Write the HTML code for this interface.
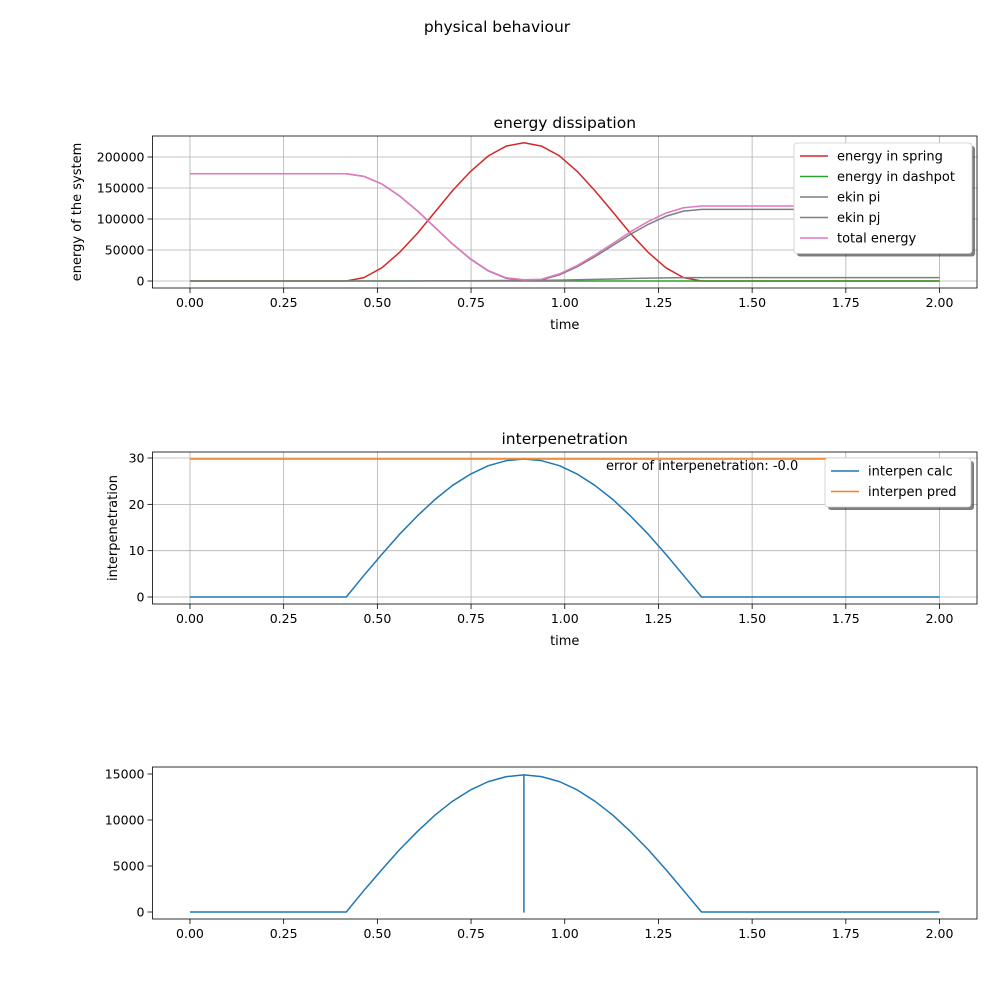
<!DOCTYPE html>
<html><head><meta charset="utf-8"><style>
body{margin:0;background:#fff}
svg text{font-family:"DejaVu Sans","Liberation Sans",sans-serif;fill:#000}
</style></head><body>
<svg id="fig" width="1000" height="1000" viewBox="0 0 1000 1000">
<rect width="1000" height="1000" fill="#fff"/>
<text x="497" y="32" font-size="15.5" text-anchor="middle">physical behaviour</text>
</svg>
<script>
// ---- data ----
const xTicks = [0, 0.25, 0.5, 0.75, 1.0, 1.25, 1.5, 1.75, 2.0];
const xTickLabels = ["0.00","0.25","0.50","0.75","1.00","1.25","1.50","1.75","2.00"];
const timeRise = [0, 0.417, 0.464, 0.512, 0.559, 0.607, 0.654, 0.701, 0.749, 0.796, 0.844, 0.891, 0.938, 0.986, 1.033, 1.080, 1.128, 1.175, 1.223, 1.270, 1.317, 1.365, 2.0];
const springEnergy = [0, 0, 5460, 21290, 45990, 77000, 111500, 146000, 177000, 201800, 217600, 223000, 217600, 201800, 177000, 146000, 111500, 77000, 45990, 21290, 5460, 0, 0];
const dashpotEnergy = [0, 0, 0, 0, 0, 0, 0, 0, 0, 0, 0, 0, 0, 0, 0, 0, 0, 0, 0, 0, 0, 0, 0];
const totalEnergy = [173000, 173000, 168760, 156480, 137330, 113200, 86500, 59700, 35600, 16800, 5200, 2000, 2900, 11500, 24900, 41700, 60500, 79300, 96100, 109500, 118100, 121000, 121000];
const ekinPi = [0, 0, 0, 0, 100, 200, 300, 400, 500, 600, 800, 1000, 1100, 1500, 2000, 2600, 3300, 4000, 4600, 5100, 5400, 5500, 5500];
const ekinPj = [173000, 173000, 168760, 156480, 137230, 113000, 86200, 59300, 35100, 16200, 4400, 1000, 1800, 10000, 22900, 39100, 57200, 75300, 91500, 104400, 112700, 115500, 115500];
const interpenCalc = [0, 0, 4.66, 9.21, 13.53, 17.52, 21.07, 24.11, 26.55, 28.34, 29.43, 29.8, 29.43, 28.34, 26.55, 24.11, 21.07, 17.52, 13.53, 9.21, 4.66, 0, 0];
const interpenPredTime = [0, 2.0];
const interpenPred = [29.8, 29.8];
const forceTime = [0, 0.417, 0.464, 0.512, 0.559, 0.607, 0.654, 0.701, 0.749, 0.796, 0.844, 0.891, 0.891, 0.891, 0.938, 0.986, 1.033, 1.080, 1.128, 1.175, 1.223, 1.270, 1.317, 1.365, 2.0];
const forceVals = [0, 0, 2331, 4604, 6765, 8758, 10536, 12055, 13276, 14171, 14716, 14900, 0, 14900, 14716, 14171, 13276, 12055, 10536, 8758, 6765, 4604, 2331, 0, 0];
const y1Ticks = [0, 50000, 100000, 150000, 200000];
const y2Ticks = [0, 10, 20, 30];
const y3Ticks = [0, 5000, 10000, 15000];

const NS = "http://www.w3.org/2000/svg";
const svg = document.getElementById("fig");
function mk(tag, attrs, parent){const e=document.createElementNS(NS,tag);for(const k in attrs)e.setAttribute(k,attrs[k]);(parent||svg).appendChild(e);return e;}

function panel(cfg){
  const L=152.5,R=977,T=cfg.top,B=cfg.top+152;
  const xs=v=>L+(v+0.1)/2.2*(R-L);
  const ys=v=>B-(v-cfg.ymin)/(cfg.ymax-cfg.ymin)*(B-T);
  const g=mk("g",{});
  
  
  if(cfg.grid){
    xTicks.forEach(t=>{const l=mk("line",{x1:xs(t),x2:xs(t),y1:T,y2:B,stroke:"#b0b0b0","stroke-width":0.8},g);
      });
    cfg.yTicks.forEach(t=>{const l=mk("line",{x1:L,x2:R,y1:ys(t),y2:ys(t),stroke:"#b0b0b0","stroke-width":0.8},g);
      });
  }
  cfg.series.forEach(s=>{
    const pts=s.x.map((t,i)=>xs(t).toFixed(2)+","+ys(s.y[i]).toFixed(2)).join(" ");
    const p=mk("polyline",{points:pts,fill:"none",stroke:s.color,"stroke-width":1.5,"stroke-linejoin":"round"},g);
    
    
  });
  const fr=mk("rect",{x:L,y:T,width:R-L,height:B-T,fill:"none",stroke:"#000","stroke-width":0.8},g);
  
  xTicks.forEach((t,i)=>{
    mk("line",{x1:xs(t),x2:xs(t),y1:B,y2:B+5,stroke:"#000","stroke-width":0.8},g);
    const tx=mk("text",{x:xs(t),y:B+19,"font-size":12.5,"text-anchor":"middle"},g);tx.textContent=xTickLabels[i];
    
  });
  cfg.yTicks.forEach(t=>{
    mk("line",{x1:L-5,x2:L,y1:ys(t),y2:ys(t),stroke:"#000","stroke-width":0.8},g);
    const tx=mk("text",{x:L-8,y:ys(t)+4.5,"font-size":12.5,"text-anchor":"end"},g);tx.textContent=String(t);
    
  });
  if(cfg.title){const tx=mk("text",{x:(L+R)/2,y:T-8,"font-size":15.5,"text-anchor":"middle"},g);tx.textContent=cfg.title;
    }
  if(cfg.xlabel){const tx=mk("text",{x:(L+R)/2,y:B+41,"font-size":13,"text-anchor":"middle"},g);tx.textContent=cfg.xlabel;
    }
  if(cfg.ylabel){const tx=mk("text",{x:0,y:0,"font-size":13,"text-anchor":"middle",transform:`translate(${cfg.ylx},${(T+B)/2}) rotate(-90)`},g);tx.textContent=cfg.ylabel;
    }
  if(cfg.legend){
    const lg=cfg.legend;const h=lg.items.length*20.5+8;
    const lgG=mk("g",{},g);
    
    mk("rect",{x:lg.x+3,y:lg.y+3,width:lg.w,height:h,fill:"#000","fill-opacity":0.5,rx:3},lgG);
    mk("rect",{x:lg.x,y:lg.y,width:lg.w,height:h,fill:"#fff",stroke:"#ccc","stroke-width":0.8,rx:3},lgG);
    lg.items.forEach((it,i)=>{
      const yy=lg.y+13+i*20.5;
      mk("line",{x1:lg.x+6,x2:lg.x+34,y1:yy,y2:yy,stroke:it[1],"stroke-width":1.5},lgG);
      const tx=mk("text",{x:lg.x+43,y:yy+4.5,"font-size":13},lgG);tx.textContent=it[0];
      
    });
  }
  return g;
}

panel({name:"energy-panel",top:136,ymin:-11290,ymax:233870,grid:true,yTicks:y1Ticks,title:"energy dissipation",xlabel:"time",ylabel:"energy of the system",ylx:81,
  series:[
    {name:"energy-in-spring-line",x:timeRise,y:springEnergy,color:"#d62728"},
    {name:"energy-in-dashpot-line",x:timeRise,y:dashpotEnergy,color:"#2ca02c"},
    {name:"ekin-pi-line",x:timeRise,y:ekinPi,color:"#7f7f7f"},
    {name:"ekin-pj-line",x:timeRise,y:ekinPj,color:"#7f7f7f"},
    {name:"total-energy-line",x:timeRise,y:totalEnergy,color:"#e377c2"}],
  legend:{x:794,y:143,w:178,items:[["energy in spring","#d62728"],["energy in dashpot","#2ca02c"],["ekin pi","#7f7f7f"],["ekin pj","#7f7f7f"],["total energy","#e377c2"]]}});

panel({name:"interpenetration-panel",top:452,ymin:-1.51,ymax:31.3,grid:true,yTicks:y2Ticks,title:"interpenetration",xlabel:"time",ylabel:"interpenetration",ylx:117,
  series:[
    {name:"interpen-calc-line",x:timeRise,y:interpenCalc,color:"#1f77b4"},
    {name:"interpen-pred-line",x:interpenPredTime,y:interpenPred,color:"#ff7f0e"}],
  legend:{x:825,y:458,w:146,items:[["interpen calc","#1f77b4"],["interpen pred","#ff7f0e"]]}});
const ann=mk("text",{x:606,y:470,"font-size":13});ann.textContent="error of interpenetration: -0.0";



panel({name:"force-panel",top:767,ymin:-761,ymax:15760,grid:false,yTicks:y3Ticks,
  series:[{name:"force-line",x:forceTime,y:forceVals,color:"#1f77b4"}]});
</script>
</body></html>
